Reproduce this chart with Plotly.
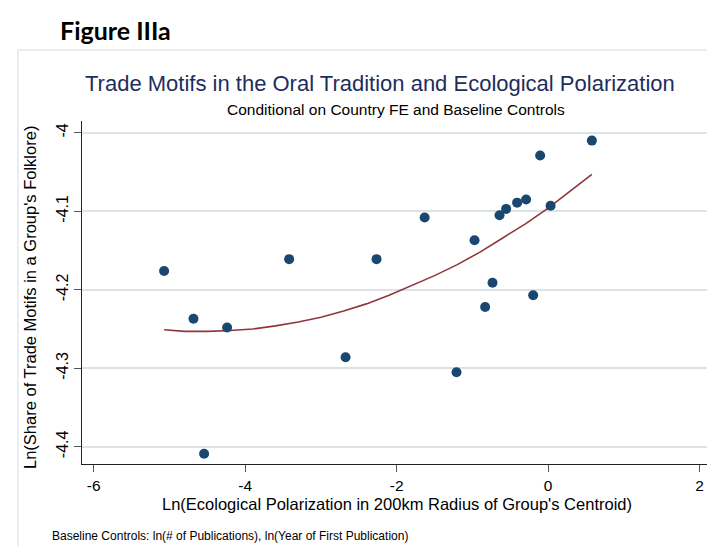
import plotly.graph_objects as go

# Scatter data
eco_pol = [-5.071, -4.683, -4.239, -3.420, -2.266, -1.631, -2.675, -4.543,
           -0.972, -0.642, -0.555, -0.410, -0.291, -0.106, 0.032, 0.577,
           -0.735, -0.832, -0.198, -1.210]
trade_share = [-4.176, -4.237, -4.248, -4.161, -4.161, -4.108, -4.286, -4.409,
               -4.137, -4.105, -4.097, -4.089, -4.085, -4.029, -4.093, -4.010,
               -4.191, -4.222, -4.207, -4.305]

# Quadratic fit line, sampled along the curve in the picture
fit_x = [-5.071, -4.8, -4.5, -4.2, -3.9, -3.6, -3.3, -3.0, -2.7, -2.4, -2.1,
         -1.8, -1.5, -1.2, -0.9, -0.6, -0.3, 0.0, 0.3, 0.577]
fit_y = [-4.251, -4.253, -4.253, -4.252, -4.250, -4.246, -4.241, -4.235, -4.227,
         -4.218, -4.207, -4.195, -4.182, -4.168, -4.152, -4.134, -4.116, -4.096,
         -4.074, -4.053]

x_ticks = [-6, -4, -2, 0, 2]
x_tick_text = ["-6", "-4", "-2", "0", "2"]
y_ticks = [-4.4, -4.3, -4.2, -4.1, -4.0]
y_tick_text = ["-4.4", "-4.3", "-4.2", "-4.1", "-4"]

W, H = 715, 546
L, R, T, B = 74, 12, 113, 90
pw, ph = W - L - R, H - T - B

def px(x):
    return (x - L) / pw

def py(y):
    return (H - B - y) / ph

FONT = "Liberation Sans, Arial, sans-serif"

fig = go.Figure()
fig.add_trace(go.Scatter(
    x=fit_x, y=fit_y, mode="lines", line=dict(color="#90353b", width=1.6),
    hoverinfo="skip", showlegend=False))
fig.add_trace(go.Scatter(
    x=eco_pol, y=trade_share, mode="markers",
    marker=dict(color="#1a476f", size=10, line=dict(width=0)), showlegend=False))

fig.update_layout(
    width=W, height=H,
    margin=dict(l=L, r=R, t=T, b=B),
    paper_bgcolor="white", plot_bgcolor="white",
    font=dict(family=FONT, color="black"),
    showlegend=False,
    xaxis=dict(range=[-6.155, 2.15], tickvals=x_ticks, ticktext=x_tick_text,
               ticks="outside", ticklen=7,
               tickcolor="#555", tickwidth=1, showgrid=False, zeroline=False,
               showline=True, linecolor="#222", linewidth=1,
               tickfont=dict(size=15.5, family=FONT, color="black")),
    yaxis=dict(range=[-4.422, -3.985], tickvals=y_ticks, ticktext=y_tick_text,
               ticks="outside", ticklen=7, tickcolor="#555", tickwidth=1,
               showgrid=True, gridcolor="#dae4e8", gridwidth=1.5, zeroline=False,
               showline=True, linecolor="#222", linewidth=1, tickangle=-90,
               tickfont=dict(size=16, family=FONT, color="black")),
)

# outer graph-region frame
fig.add_shape(type="rect", xref="paper", yref="paper",
              x0=px(10), x1=px(714), y0=py(544), y1=py(42),
              line=dict(color="#e3e9ec", width=1.5), fillcolor="rgba(0,0,0,0)", layer="below")

ann = [
    dict(text="<b>Figure IIIa</b>", x=px(50), y=py(22), xanchor="left", yanchor="middle",
         font=dict(family="Lato, Carlito, sans-serif", size=25, color="black")),
    dict(text="Trade Motifs in the Oral Tradition and Ecological Polarization",
         x=px(372), y=py(75), xanchor="center", yanchor="middle",
         font=dict(family=FONT, size=22, color="#1e2d5c")),
    dict(text="Conditional on Country FE and Baseline Controls",
         x=px(388), y=py(101.5), xanchor="center", yanchor="middle",
         font=dict(family=FONT, size=15.5, color="black")),
    dict(text="Ln(Share of Trade Motifs in a Group's Folklore)", textangle=-90,
         x=px(22), y=py(290), xanchor="center", yanchor="middle",
         font=dict(family=FONT, size=16.5, color="black")),
    dict(text="Ln(Ecological Polarization in 200km Radius of Group's Centroid)",
         x=px(389), y=py(496), xanchor="center", yanchor="middle",
         font=dict(family=FONT, size=16.5, color="black")),
    dict(text="Baseline Controls: ln(# of Publications), ln(Year of First Publication)",
         x=px(42), y=py(528), xanchor="left", yanchor="middle",
         font=dict(family=FONT, size=12, color="black")),
]
for a in ann:
    fig.add_annotation(xref="paper", yref="paper", showarrow=False, **a)

fig.write_html("out.html")
